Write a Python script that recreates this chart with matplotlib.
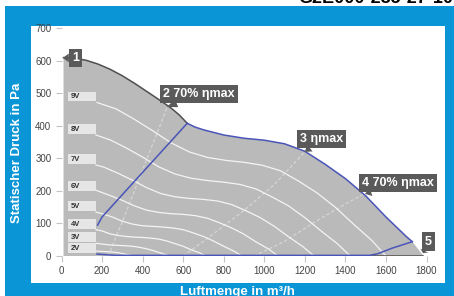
import matplotlib
matplotlib.use('Agg')
import matplotlib.pyplot as plt
from matplotlib.patches import Rectangle

plt.rcParams['font.family'] = ['Liberation Sans', 'DejaVu Sans']

BLUE = '#0a95d6'
GRAY = '#bababa'
DARK = '#4f4f4f'
LINE_BLUE = '#4a55b8'
TAG = '#5a5a5a'

# max curve (10 V), dark part up to point 2, blue part after it
top_dark_q = [10, 60, 120, 180, 240, 300, 360, 420, 480, 540, 580, 620]
top_dark_p = [610, 608, 602, 590, 574, 554, 531, 506, 481, 455, 434, 408]
top_blue_q = [620, 660, 700, 800, 900, 1000, 1100, 1200, 1300, 1400, 1500, 1600, 1700, 1730]
top_blue_p = [408, 396, 388, 372, 362, 356, 345, 322, 282, 238, 185, 120, 60, 44]

# operating limits (blue)
left_q = [178, 200, 620]
left_p = [95, 120, 408]
bottom_q = [175, 265, 1520, 1560, 1630, 1690, 1730]
bottom_p = [6, 2, 2, 7, 24, 36, 44]
end_q = [1520, 1785]
end_p = [0, 0]

# voltage curves
v9_q = [175, 270, 360, 450, 540, 630, 720, 810, 900, 990, 1080, 1170, 1260, 1350, 1440, 1530, 1600]
v9_p = [472, 452, 420, 385, 348, 320, 303, 294, 288, 279, 262, 230, 194, 150, 98, 48, 0]
v8_q = [170, 240, 320, 400, 480, 560, 640, 720, 800, 880, 960, 1040, 1120, 1200, 1280, 1360, 1424]
v8_p = [372, 357, 332, 304, 274, 252, 239, 232, 227, 220, 206, 181, 154, 118, 77, 38, 0]
v7_q = [170, 210, 280, 350, 420, 490, 560, 630, 700, 770, 840, 910, 980, 1050, 1120, 1190, 1246]
v7_p = [280, 273, 254, 233, 210, 192, 182, 177, 174, 169, 158, 139, 118, 91, 59, 29, 0]
v6_q = [170, 240, 300, 360, 420, 480, 540, 600, 660, 720, 780, 840, 900, 960, 1020, 1068]
v6_p = [202, 186, 171, 154, 141, 134, 130, 128, 124, 116, 102, 86, 67, 43, 22, 0]
v5_q = [170, 200, 250, 300, 350, 400, 450, 500, 550, 600, 650, 700, 750, 800, 850, 890]
v5_p = [135, 130, 120, 107, 98, 93, 91, 89, 86, 81, 71, 60, 46, 30, 15, 0]
v4_q = [170, 200, 240, 280, 320, 360, 400, 440, 480, 520, 560, 600, 640, 680, 712]
v4_p = [81, 77, 68, 63, 60, 58, 57, 55, 52, 46, 38, 30, 19, 10, 0]
v3_q = [170, 210, 240, 270, 300, 330, 360, 390, 420, 450, 480, 510, 534]
v3_p = [39, 36, 34, 33, 32, 31, 29, 26, 22, 17, 11, 5, 0]
v2_q = [170, 200, 240, 280, 320, 356]
v2_p = [15, 14, 13, 10, 5, 0]

volt_labels = ['9V', '8V', '7V', '6V', '5V', '4V', '3V', '2V']
volt_label_p = [490, 390, 298, 215, 153, 98, 58, 24]

# faint efficiency lines
eff2_q = [230, 300, 400, 520]
eff2_p = [0, 105, 265, 455]
eff3_q = [600, 700, 900, 1050, 1200]
eff3_p = [0, 45, 140, 220, 320]
eff4_q = [950, 1100, 1250, 1400, 1490]
eff4_p = [0, 45, 105, 160, 190]

tag_texts = ['1', '2 70% ηmax', '3 ηmax', '4 70% ηmax', '5']
tag_q = [7, 520, 1200, 1497, 1783]
tag_p = [609, 458, 320, 191, 9]

fig = plt.figure(figsize=(4.54, 2.96), dpi=100)
fig.patches.append(Rectangle((5 / 454, 0), 1, 1 - 6 / 296, transform=fig.transFigure,
                             fc=BLUE, ec='none', zorder=-2))
fig.patches.append(Rectangle((31 / 454, 1 - 283 / 296), 414 / 454, 257 / 296,
                             transform=fig.transFigure, fc='white', ec='none', zorder=-1))

ax = fig.add_axes([61.5 / 454, 1 - 256 / 296, 365 / 454, 227.7 / 296])
ax.set_facecolor('none')

poly_q = top_dark_q + top_blue_q[1:] + [1785, 10]
poly_p = top_dark_p + top_blue_p[1:] + [0, 0]
ax.fill(poly_q, poly_p, color=GRAY, lw=0, zorder=1)

for q, p in [(eff2_q, eff2_p), (eff3_q, eff3_p), (eff4_q, eff4_p)]:
    ax.plot(q, p, color='white', lw=0.8, alpha=0.45, ls=(0, (3, 2)), zorder=2)

for q, p in [(v9_q, v9_p), (v8_q, v8_p), (v7_q, v7_p), (v6_q, v6_p),
             (v5_q, v5_p), (v4_q, v4_p), (v3_q, v3_p), (v2_q, v2_p)]:
    ax.plot(q, p, color='#f4f4f4', lw=0.9, zorder=2)

for lab, p in zip(volt_labels, volt_label_p):
    ax.add_patch(Rectangle((30, p - 15), 140, 30, fc='#e6e6e6', ec='none', zorder=3))
    ax.text(45, p, lab, fontsize=5.5, fontweight='bold', color='#333333',
            va='center', ha='left', zorder=4)

ax.plot(top_dark_q, top_dark_p, color=DARK, lw=1.1, zorder=4)
ax.plot(end_q, end_p, color=DARK, lw=1.1, zorder=4)
ax.plot(top_blue_q, top_blue_p, color=LINE_BLUE, lw=1.1, zorder=5)
ax.plot(left_q, left_p, color=LINE_BLUE, lw=1.1, zorder=5)
ax.plot(bottom_q, bottom_p, color=LINE_BLUE, lw=1.1, zorder=5)

offsets = [(9, 0), (23, 9.4), (12, 9.4), (24, 8), (4, 8.3)]
for txt, q, p, off in zip(tag_texts, tag_q, tag_p, offsets):
    ax.annotate(txt, xy=(q, p), xytext=off, textcoords='offset points',
                ha='center', va='center', color='white', fontsize=9, fontweight='bold',
                bbox=dict(boxstyle='square,pad=0.25', fc=TAG, ec='none'),
                arrowprops=dict(arrowstyle='wedge,tail_width=0.7,shrink_factor=0.5',
                                fc=TAG, ec='none', shrinkA=0, shrinkB=0),
                zorder=6)

ax.set_xlim(0, 1800)
ax.set_ylim(0, 700)
ax.set_xticks(range(0, 1801, 200))
ax.set_yticks(range(0, 701, 100))
for s in ax.spines.values():
    s.set_visible(False)
ax.tick_params(color='#c4c4c4', length=4.3, width=0.8, labelsize=7,
               labelcolor='#444444', pad=3)

fig.text(17.5 / 454, 1 - 153 / 296, 'Statischer Druck in Pa', rotation=90,
         color='white', fontsize=9.5, fontweight='bold', ha='center', va='center')
fig.text(237 / 454, 1 - 294.5 / 296, 'Luftmenge in m³/h', color='white',
         fontsize=9.5, fontweight='bold', ha='center', va='baseline')
fig.text(453 / 454, 1 - 3 / 296, 'G2E000-285-27-10', color='black',
         fontsize=13, fontweight='bold', ha='right', va='baseline')

fig.savefig('out.png', dpi=100)
